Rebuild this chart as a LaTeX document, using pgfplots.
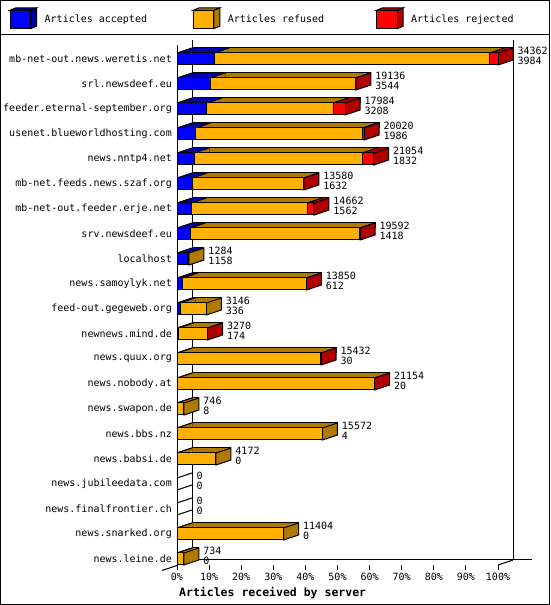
\documentclass[border=0pt]{standalone}
\usepackage{fontspec}
\setmainfont{DejaVu Sans Mono}
\usepackage{pgfplots}
\usepackage{pgfplotstable}
\pgfplotsset{compat=1.18}

\definecolor{cblue}{RGB}{0,0,255}
\definecolor{dblue}{RGB}{0,0,176}
\definecolor{corange}{RGB}{255,176,0}
\definecolor{dorange}{RGB}{176,121,0}
\definecolor{cred}{RGB}{255,0,0}
\definecolor{dred}{RGB}{176,0,0}

% rows listed bottom to top
\pgfplotstableread{
name total acc ref rej first bone btwo face
news.leine.de 734 0 734 0 o o n o
news.snarked.org 11404 0 11404 0 o o n o
news.finalfrontier.ch 0 0 0 0 w n n w
news.jubileedata.com 0 0 0 0 w n n w
news.babsi.de 4172 0 4172 0 o o n o
news.bbs.nz 15572 4 15568 0 b o n o
news.swapon.de 746 8 738 0 b o n o
news.nobody.at 21154 20 21104 30 b o r r
news.quux.org 15432 30 15372 30 b o r r
newnews.mind.de 3270 174 3076 20 b o r r
feed-out.gegeweb.org 3146 336 2810 0 b o n o
news.samoylyk.net 13850 612 13208 30 b o r r
localhost 1284 1158 126 0 b o n o
srv.newsdeef.eu 19592 1418 18134 40 b o r r
mb-net-out.feeder.erje.net 14662 1562 12360 740 b o r r
mb-net.feeds.news.szaf.org 13580 1632 11918 30 b o r r
news.nntp4.net 21054 1832 17972 1250 b o r r
usenet.blueworldhosting.com 20020 1986 17834 200 b o r r
feeder.eternal-september.org 17984 3208 13496 1280 b o r r
srl.newsdeef.eu 19136 3544 15542 50 b o r r
mb-net-out.news.weretis.net 34362 3984 29458 920 b o r r
}\data

% 3d faces of the bars
\pgfdeclareplotmark{rface}{%
  \pgfpathmoveto{\pgfpoint{0pt}{6pt}}\pgfpathlineto{\pgfpoint{0pt}{-6pt}}%
  \pgfpathlineto{\pgfpoint{15pt}{-1pt}}\pgfpathlineto{\pgfpoint{15pt}{11pt}}%
  \pgfpathclose\pgfusepathqfillstroke}
\pgfdeclareplotmark{rline}{%
  \pgfpathmoveto{\pgfpoint{0pt}{-6pt}}\pgfpathlineto{\pgfpoint{15pt}{-1pt}}%
  \pgfusepathqstroke}
\pgfdeclareplotmark{ltri}{%
  \pgfpathmoveto{\pgfpoint{0pt}{6pt}}\pgfpathlineto{\pgfpoint{15pt}{11pt}}%
  \pgfpathlineto{\pgfpoint{15.6pt}{11pt}}\pgfpathlineto{\pgfpoint{15.6pt}{6pt}}%
  \pgfpathclose\pgfusepathqfill
  \pgfpathmoveto{\pgfpoint{0pt}{6pt}}\pgfpathlineto{\pgfpoint{15pt}{11pt}}%
  \pgfusepathqstroke}
\pgfdeclareplotmark{lline}{%
  \pgfpathmoveto{\pgfpoint{0pt}{6pt}}\pgfpathlineto{\pgfpoint{15pt}{11pt}}%
  \pgfusepathqstroke}
\pgfdeclareplotmark{nix}{}

\pgfplotsset{
  barax/.style={
    scale only axis, width=321pt, height=520pt,
    xmin=0, xmax=100, ymin=-0.24, ymax=20.56,
    clip=false, anchor=south west,
    every axis plot/.append style={line width=1pt},
    /pgf/number format/assume math mode=true,
  },
  edge/.style={scatter, only marks, scatter src=explicit symbolic,
    scatter/classes={b={mark=ltri, fill=dblue, draw=black},
                     o={mark=ltri, fill=dorange, draw=black},
                     r={mark=ltri, fill=dred, draw=black},
                     w={mark=lline, draw=black},
                     n={mark=nix}}},
}

\newcommand{\legcube}[3]{%
  \begin{scope}[shift={(#1pt,576.3pt)}]
    \draw[fill=#3] (20.5pt,0) -- (26.5pt,2.5pt) -- (26.5pt,20.9pt) -- (20.5pt,18.4pt) -- cycle;
    \draw[fill=#3] (0,18.4pt) -- (6pt,20.9pt) -- (26.5pt,20.9pt) -- (20.5pt,18.4pt) -- cycle;
    \draw[fill=#2] (0,0) rectangle (20.5pt,18.4pt);
  \end{scope}}

\begin{document}
\begin{tikzpicture}[line width=1pt]
\useasboundingbox (0,0) rectangle (550pt,605pt);
\draw (0.5pt,0.5pt) rectangle (549.5pt,604.5pt);
\draw (0,570pt) -- (550pt,570pt);

% walls
\draw (192pt,45pt) -- (192pt,565pt);
\draw (513pt,45pt) -- (513pt,565pt);
\draw (192pt,45pt) -- (532pt,45pt);
\draw (177pt,40pt) -- (177pt,560pt);
\draw (498pt,40pt) -- (513pt,45pt);
\draw (162pt,34.5pt) -- (177pt,39.5pt);

% top faces
\begin{axis}[barax, at={(192pt,48.5pt)}, hide axis, xbar stacked, bar width=5pt]
  \addplot[fill=dblue, draw=black] table[x expr=\thisrow{acc}/343.62, y expr=\coordindex]{\data};
  \addplot[fill=dorange, draw=black] table[x expr=\thisrow{ref}/343.62, y expr=\coordindex]{\data};
  \addplot[fill=dred, draw=black] table[x expr=\thisrow{rej}/343.62, y expr=\coordindex]{\data};
\end{axis}

% slanted edges, side faces and value labels
\begin{axis}[barax, at={(177pt,40pt)}, hide axis]
  \addplot[edge] table[x expr=0, y expr=\coordindex, meta=first]{\data};
  \addplot[edge] table[x expr=\thisrow{acc}/343.62, y expr=\coordindex, meta=bone]{\data};
  \addplot[edge] table[x expr=(\thisrow{acc}+\thisrow{ref})/343.62, y expr=\coordindex, meta=btwo]{\data};
  \addplot[scatter, only marks, scatter src=explicit symbolic,
    scatter/classes={r={mark=rface, fill=dred, draw=black},
                     o={mark=rface, fill=dorange, draw=black},
                     w={mark=rline, draw=black}}]
    table[x expr=\thisrow{total}/343.62, y expr=\coordindex, meta=face]{\data};
  \addplot[draw=none, nodes near coords, point meta=explicit symbolic,
    nodes near coords style={anchor=west, inner sep=0pt, xshift=19pt, yshift=8.5pt, black}]
    table[x expr=\thisrow{total}/343.62, y expr=\coordindex, meta=total]{\data};
  \addplot[draw=none, nodes near coords, point meta=explicit symbolic,
    nodes near coords style={anchor=west, inner sep=0pt, xshift=19pt, yshift=-2pt, black}]
    table[x expr=\thisrow{total}/343.62, y expr=\coordindex, meta=acc]{\data};
\end{axis}

% front faces
\begin{axis}[barax, at={(177pt,40pt)}, xbar stacked, bar width=12pt,
    axis line style={draw=none},
    xtick={0,10,...,100}, xticklabel={\pgfmathprintnumber{\tick}\%},
    xtick pos=left, tick align=outside, major tick length=5pt,
    xtick style={black, line width=1pt},
    xticklabel style={anchor=base, inner sep=0pt, yshift=-10pt},
    ytick={0,...,20}, yticklabels from table={\data}{name},
    ytick style={draw=none},
    yticklabel style={anchor=east, inner sep=0pt, xshift=0pt},
    xlabel={Articles received by server},
    xlabel style={at={(axis description cs:0,0)}, anchor=base west, inner sep=0pt,
      xshift=2pt, yshift=-31.2pt, font=\bfseries\fontsize{11.5}{12}\selectfont}]
  \addplot[fill=cblue, draw=black] table[x expr=\thisrow{acc}/343.62, y expr=\coordindex]{\data};
  \addplot[fill=corange, draw=black] table[x expr=\thisrow{ref}/343.62, y expr=\coordindex]{\data};
  \addplot[fill=cred, draw=black] table[x expr=\thisrow{rej}/343.62, y expr=\coordindex]{\data};
\end{axis}

% legend
\legcube{10}{cblue}{dblue}
\legcube{193.3}{corange}{dorange}
\legcube{376.7}{cred}{dred}
\node[anchor=base west, inner sep=0pt] at (44.5pt,582pt) {Articles accepted};
\node[anchor=base west, inner sep=0pt] at (227.7pt,582pt) {Articles refused};
\node[anchor=base west, inner sep=0pt] at (411pt,582pt) {Articles rejected};
\end{tikzpicture}
\end{document}
